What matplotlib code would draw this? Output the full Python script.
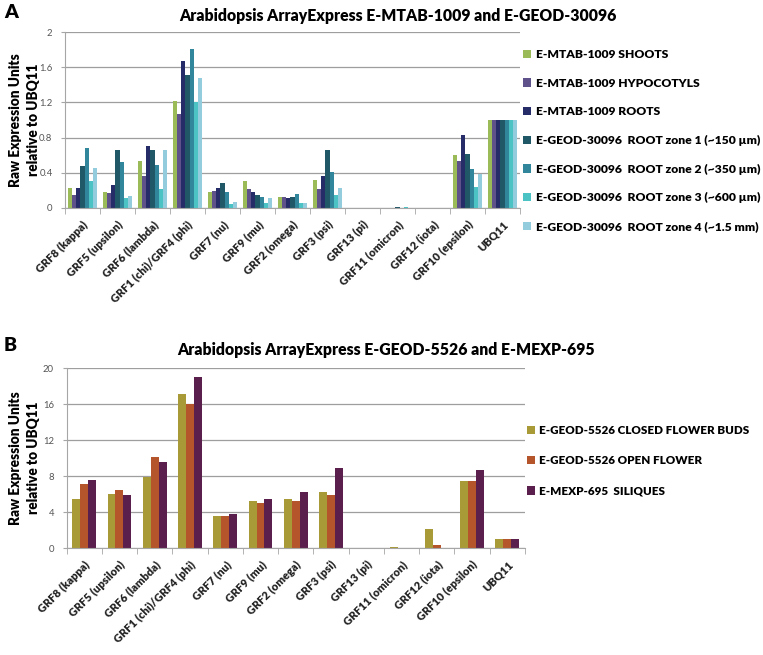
import numpy as np
import matplotlib.pyplot as plt
from matplotlib.transforms import ScaledTranslation

plt.rcParams['font.family'] = ['Lato', 'DejaVu Sans']

genes = ["GRF8 (kappa)", "GRF5 (upsilon)", "GRF6 (lambda)", "GRF1 (chi)/GRF4 (phi)", "GRF7 (nu)",
         "GRF9 (mu)", "GRF2 (omega)", "GRF3 (psi)", "GRF13 (pi)", "GRF11 (omicron)",
         "GRF12 (iota)", "GRF10 (epsilon)", "UBQ11"]

# panel A: E-MTAB-1009 / E-GEOD-30096
shoots = [0.23, 0.187, 0.533, 1.22, 0.18, 0.312, 0.126, 0.316, 0.005, 0.005, 0.0, 0.606, 1.0]
hypocotyls = [0.145, 0.168, 0.36, 1.07, 0.194, 0.22, 0.126, 0.22, 0.0, 0.0, 0.0, 0.537, 1.0]
roots = [0.23, 0.263, 0.705, 1.676, 0.225, 0.18, 0.114, 0.36, 0.0, 0.0, 0.0, 0.834, 1.0]
zone1 = [0.476, 0.659, 0.655, 1.509, 0.286, 0.152, 0.126, 0.66, 0.005, 0.01, 0.0, 0.613, 1.0]
zone2 = [0.68, 0.522, 0.49, 1.81, 0.18, 0.122, 0.16, 0.404, 0.0, 0.005, 0.0, 0.438, 1.0]
zone3 = [0.305, 0.11, 0.217, 1.204, 0.046, 0.057, 0.053, 0.149, 0.0, 0.01, 0.0, 0.24, 1.0]
zone4 = [0.453, 0.135, 0.655, 1.478, 0.069, 0.11, 0.053, 0.225, 0.0, 0.005, 0.0, 0.381, 1.0]
labels_a = ["E-MTAB-1009 SHOOTS", "E-MTAB-1009 HYPOCOTYLS", "E-MTAB-1009 ROOTS",
            "E-GEOD-30096  ROOT zone 1 (~150 \u00b5m)", "E-GEOD-30096  ROOT zone 2 (~350 \u00b5m)",
            "E-GEOD-30096  ROOT zone 3 (~600 \u00b5m)", "E-GEOD-30096  ROOT zone 4 (~1.5 mm)"]
colors_a = ["#9BBB59", "#5F5189", "#262C68", "#215867", "#31869B", "#4BC3C5", "#93CDDD"]
yticks_a = [0, 0.4, 0.8, 1.2, 1.6, 2]
yticklabels_a = ["0", "0.4", "0.8", "1.2", "1.6", "2"]

# panel B: E-GEOD-5526 / E-MEXP-695
buds = [5.4, 5.95, 7.85, 17.1, 3.52, 5.22, 5.4, 6.26, 0.0, 0.15, 2.07, 7.5, 1.0]
open_flower = [7.1, 6.48, 10.1, 16.0, 3.55, 5.0, 5.19, 5.93, 0.02, 0.03, 0.3, 7.48, 1.0]
siliques = [7.6, 5.89, 9.56, 19.0, 3.78, 5.41, 6.22, 8.89, 0.05, 0.05, 0.05, 8.63, 1.0]
labels_b = ["E-GEOD-5526 CLOSED FLOWER BUDS", "E-GEOD-5526 OPEN FLOWER", "E-MEXP-695  SILIQUES"]
colors_b = ["#A99A38", "#B4552B", "#5B1F4E"]
yticks_b = [0, 4, 8, 12, 16, 20]

fig = plt.figure(figsize=(7.63, 6.55), dpi=100)
ax_a = fig.add_axes([65/763, 1-208/655, 455/763, 176/655])
ax_b = fig.add_axes([66.5/763, 1-548/655, 458.5/763, 180/655])

x = np.arange(len(genes))
shift = ScaledTranslation(-9/100, -3/100, fig.dpi_scale_trans)


def style_axes(ax, yticks, ylim, label_x):
    ax.set_xlim(-0.5, len(genes)-0.5)
    ax.set_ylim(0, ylim)
    ax.set_yticks(yticks)
    ax.yaxis.grid(True, color="#9E9E9E", linewidth=0.9)
    ax.set_axisbelow(True)
    for s in ["top", "right"]:
        ax.spines[s].set_visible(False)
    ax.spines["left"].set_color("#A6A6A6")
    ax.spines["bottom"].set_color("#A6A6A6")
    ax.tick_params(axis="y", colors="#A6A6A6", labelcolor="#555555", labelsize=6.8, length=3, pad=6)
    ax.set_xticks(x)
    ax.set_xticklabels(genes, rotation=45, ha="right", rotation_mode="anchor",
                       fontsize=8, fontweight="heavy", color="#222222")
    for lab in ax.get_xticklabels():
        lab.set_transform(lab.get_transform() + shift)
    ax.tick_params(axis="x", which="major", length=0, pad=8)
    ax.set_xticks(np.arange(-0.5, len(genes)), minor=True)
    ax.tick_params(axis="x", which="minor", length=4, color="#A6A6A6")
    ax.set_ylabel("Raw Expression Units\nrelative to UBQ11", fontsize=9.8, fontweight="heavy",
                  linespacing=1.45)
    ax.yaxis.set_label_coords(label_x, 0.5)


# panel A bars
series_a = [shoots, hypocotyls, roots, zone1, zone2, zone3, zone4]
w = 0.12
for i, vals in enumerate(series_a):
    ax_a.bar(x + (i-3)*w, vals, width=w, color=colors_a[i], label=labels_a[i], linewidth=0)
style_axes(ax_a, yticks_a, 2, -0.055)
ax_a.set_yticklabels(yticklabels_a)
ax_a.legend(loc="upper left", bbox_to_anchor=(523/763, 1-49/655), bbox_transform=fig.transFigure,
            frameon=False, prop={"weight": "heavy", "size": 8.7}, labelspacing=1.46,
            handlelength=0.7, handleheight=0.7, handletextpad=0.35, borderpad=0, borderaxespad=0)

# panel B bars
series_b = [buds, open_flower, siliques]
w = 0.225
for i, vals in enumerate(series_b):
    ax_b.bar(x + (i-1)*w, vals, width=w, color=colors_b[i], label=labels_b[i], linewidth=0)
style_axes(ax_b, yticks_b, 20, -0.058)
ax_b.legend(loc="upper left", bbox_to_anchor=(527/763, 1-425/655), bbox_transform=fig.transFigure,
            frameon=False, prop={"weight": "heavy", "size": 8.4}, labelspacing=1.65,
            handlelength=0.7, handleheight=0.7, handletextpad=0.35, borderpad=0, borderaxespad=0)

fig.text(398/763, 1-16/655, "Arabidopsis ArrayExpress E-MTAB-1009 and E-GEOD-30096",
         ha="center", va="center", fontsize=11.3, fontweight="heavy")
fig.text(386/763, 1-350/655, "Arabidopsis ArrayExpress E-GEOD-5526 and E-MEXP-695",
         ha="center", va="center", fontsize=11.3, fontweight="heavy")
fig.text(4/763, 1-12/655, "A", ha="left", va="center", fontsize=14, fontweight="heavy")
fig.text(4/763, 1-346/655, "B", ha="left", va="center", fontsize=14, fontweight="heavy")

plt.savefig("out.png", dpi=100)
